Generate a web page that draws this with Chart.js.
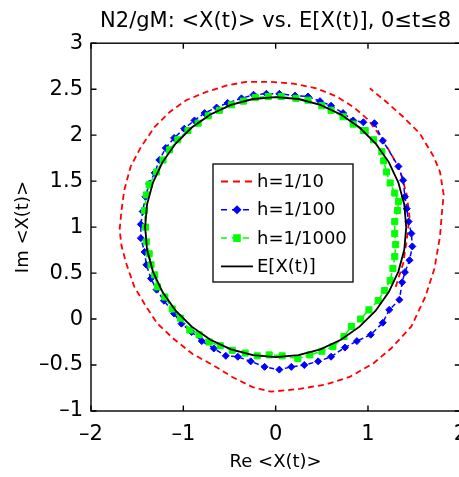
<!DOCTYPE html>
<html><head><meta charset="utf-8">
<script src="https://cdn.jsdelivr.net/npm/chart.js@4.4.1/dist/chart.umd.min.js"></script>
<style>
html,body{margin:0;padding:0;overflow:hidden;background:#fff;width:459px;height:477px}
canvas{display:block}
</style></head>
<body>
<canvas id="c" width="478" height="477" style="width:478px;height:477px"></canvas>
<script>
const titleText = 'N2/gM: <X(t)> vs. E[X(t)], 0\u2264t\u22648';
const xTitle = 'Re <X(t)>';
const yTitle = 'Im <X(t)>';
const seriesLabels = ['h=1/10', 'h=1/100', 'h=1/1000', 'E[X(t)]'];
const xTicks = [-2, -1, 0, 1, 2];
const yTicks = [-1, -0.5, 0, 0.5, 1, 1.5, 2, 2.5, 3];

// h = 1/10 (red dashed spiral)
const redX = [1.30, 1.38, 1.42, 1.45, 1.42, 1.36, 1.26, 1.14, 1.00, 0.85, 0.66, 0.44, 0.19, -0.07, -0.32, -0.53, -0.75, -0.97, -1.15, -1.31, -1.46, -1.57, -1.64, -1.67, -1.69, -1.67, -1.62, -1.53, -1.40, -1.28, -1.10, -0.90, -0.68, -0.47, -0.25, -0.05, 0.26, 0.55, 0.80, 1.06, 1.25, 1.47, 1.62, 1.72, 1.78, 1.80, 1.82, 1.78, 1.71, 1.56, 1.38, 1.20, 1.02];
const redY = [0.35, 0.60, 0.86, 1.11, 1.35, 1.57, 1.78, 1.98, 2.17, 2.30, 2.42, 2.51, 2.56, 2.58, 2.58, 2.54, 2.47, 2.38, 2.25, 2.09, 1.87, 1.66, 1.40, 1.18, 0.97, 0.80, 0.61, 0.35, 0.13, -0.05, -0.22, -0.38, -0.50, -0.63, -0.74, -0.79, -0.76, -0.71, -0.63, -0.48, -0.32, -0.08, 0.24, 0.55, 0.90, 1.15, 1.35, 1.60, 1.77, 2.02, 2.20, 2.36, 2.51];

// h = 1/100 (blue dashed, diamonds)
const blueX = [1.07, 1.16, 1.33, 1.38, 1.40, 1.42, 1.44, 1.47, 1.48, 1.45, 1.40, 1.37, 1.34, 1.23, 1.16, 1.03, 0.88, 0.75, 0.60, 0.46, 0.31, 0.17, 0.04, -0.12, -0.27, -0.41, -0.54, -0.67, -0.80, -0.91, -1.02, -1.10, -1.21, -1.29, -1.35, -1.40, -1.42, -1.46, -1.46, -1.44, -1.41, -1.37, -1.31, -1.26, -1.19, -1.10, -0.99, -0.88, -0.77, -0.64, -0.52, -0.37, -0.24, -0.10, 0.04, 0.21, 0.35, 0.48, 0.60, 0.73, 0.84, 0.95];
const blueY = [2.13, 1.94, 1.66, 1.51, 1.33, 1.20, 1.06, 0.93, 0.79, 0.64, 0.51, 0.40, 0.21, 0.10, -0.04, -0.17, -0.24, -0.31, -0.41, -0.46, -0.50, -0.52, -0.55, -0.52, -0.46, -0.41, -0.40, -0.32, -0.24, -0.14, -0.05, 0.06, 0.20, 0.32, 0.44, 0.59, 0.73, 0.88, 1.03, 1.17, 1.33, 1.47, 1.59, 1.73, 1.86, 1.97, 2.07, 2.16, 2.24, 2.30, 2.35, 2.40, 2.44, 2.45, 2.45, 2.43, 2.42, 2.37, 2.32, 2.24, 2.16, 2.14];

// h = 1/1000 (green dashed, squares)
const greenX = [0.97, 1.06, 1.15, 1.17, 1.20, 1.24, 1.29, 1.33, 1.32, 1.29, 1.29, 1.30, 1.29, 1.27, 1.24, 1.18, 1.11, 1.01, 0.92, 0.82, 0.74, 0.62, 0.50, 0.37, 0.24, 0.07, -0.07, -0.20, -0.33, -0.47, -0.60, -0.72, -0.83, -0.93, -1.03, -1.12, -1.20, -1.28, -1.31, -1.35, -1.37, -1.40, -1.41, -1.42, -1.40, -1.37, -1.29, -1.22, -1.15, -1.06, -0.95, -0.84, -0.73, -0.61, -0.48, -0.35, -0.22, -0.08, 0.06, 0.22, 0.35, 0.50, 0.60, 0.73, 0.84, 0.95];
const greenY = [2.05, 1.95, 1.82, 1.72, 1.60, 1.48, 1.37, 1.28, 1.18, 1.06, 0.93, 0.81, 0.68, 0.55, 0.42, 0.31, 0.20, 0.10, 0.00, -0.08, -0.19, -0.30, -0.35, -0.39, -0.43, -0.40, -0.39, -0.40, -0.37, -0.34, -0.29, -0.25, -0.17, -0.12, 0.01, 0.11, 0.24, 0.35, 0.48, 0.59, 0.71, 0.84, 1.00, 1.18, 1.35, 1.46, 1.60, 1.73, 1.84, 1.95, 2.05, 2.13, 2.21, 2.27, 2.33, 2.37, 2.41, 2.42, 2.42, 2.40, 2.38, 2.32, 2.27, 2.20, 2.12, 2.05];

// E[X(t)] (black solid)
const expX = [1.414, 1.393, 1.329, 1.225, 1.083, 0.909, 0.707, 0.484, 0.246, 0.000, -0.246, -0.484, -0.707, -0.909, -1.083, -1.225, -1.329, -1.393, -1.414, -1.393, -1.329, -1.225, -1.083, -0.909, -0.707, -0.484, -0.246, 0.000, 0.246, 0.484, 0.707, 0.909, 1.083, 1.225, 1.329, 1.393, 1.414];
const expY = [1.000, 1.246, 1.484, 1.707, 1.909, 2.083, 2.225, 2.329, 2.393, 2.414, 2.393, 2.329, 2.225, 2.083, 1.909, 1.707, 1.484, 1.246, 1.000, 0.754, 0.516, 0.293, 0.091, -0.083, -0.225, -0.329, -0.393, -0.414, -0.393, -0.329, -0.225, -0.083, 0.091, 0.293, 0.516, 0.754, 1.000];

const pts = (xs, ys) => xs.map((v, i) => ({x: v, y: ys[i]}));
const FONT = 'DejaVu Sans';
Chart.defaults.font.family = FONT;
Chart.defaults.color = '#000';

const fmt = v => (v < 0 ? '\u2013' + Math.abs(v) : String(v));

const framePlugin = {
  id: 'frame',
  afterDatasetsDraw(chart) {
    const {ctx, chartArea: {left, right, top, bottom}, scales: {x, y}} = chart;
    ctx.save();
    ctx.strokeStyle = '#000';
    ctx.lineWidth = 1.4;
    ctx.setLineDash([]);
    ctx.strokeRect(left, top, right - left, bottom - top);
    const L = 5.5;
    ctx.beginPath();
    x.ticks.forEach(t => {
      const p = x.getPixelForValue(t.value);
      ctx.moveTo(p, bottom); ctx.lineTo(p, bottom - L);
      ctx.moveTo(p, top); ctx.lineTo(p, top + L);
    });
    y.ticks.forEach(t => {
      const p = y.getPixelForValue(t.value);
      ctx.moveTo(left, p); ctx.lineTo(left + L, p);
      ctx.moveTo(right, p); ctx.lineTo(right - L, p);
    });
    ctx.stroke();
    ctx.restore();
  }
};

const legendPlugin = {
  id: 'boxLegend',
  afterDraw(chart) {
    const ctx = chart.ctx;
    const bx = 213, by = 164, bw = 140, bh = 118;
    ctx.save();
    ctx.fillStyle = '#fff';
    ctx.fillRect(bx, by, bw, bh);
    ctx.strokeStyle = '#000';
    ctx.lineWidth = 1.3;
    ctx.setLineDash([]);
    ctx.strokeRect(bx, by, bw, bh);
    chart.data.datasets.forEach((ds, i) => {
      const yy = by + 17.5 + i * 28.3;
      ctx.strokeStyle = ds.borderColor;
      ctx.lineWidth = ds.borderWidth;
      ctx.setLineDash(ds.legendDash || []);
      ctx.beginPath();
      ctx.moveTo(bx + 8, yy); ctx.lineTo(bx + 40, yy);
      ctx.stroke();
      ctx.setLineDash([]);
      if (ds.pointRadius > 0) {
        ctx.fillStyle = ds.pointBackgroundColor;
        ctx.strokeStyle = ds.pointBorderColor;
        Chart.helpers.drawPoint(ctx, {pointStyle: ds.pointStyle, radius: ds.pointRadius, borderWidth: 1, rotation: 0}, bx + 24, yy);
      }
      ctx.fillStyle = '#000';
      ctx.font = '18px "' + FONT + '"';
      ctx.textBaseline = 'middle';
      ctx.textAlign = 'left';
      ctx.fillText(ds.label, bx + 44, yy + 1);
    });
    ctx.restore();
  }
};

new Chart(document.getElementById('c'), {
  type: 'scatter',
  data: {
    datasets: [
      {label: seriesLabels[0], data: pts(redX, redY), showLine: true, borderColor: '#ff0000', borderWidth: 1.8,
       borderDash: [6, 4], legendDash: [7, 5], pointRadius: 0, order: 4},
      {label: seriesLabels[1], data: pts(blueX, blueY), showLine: true, borderColor: '#0000ff', borderWidth: 1.5,
       borderDash: [5, 3], legendDash: [6, 5], pointStyle: 'rectRot', pointRadius: 3.5, pointBackgroundColor: '#0000ff',
       pointBorderColor: '#0000ff', pointBorderWidth: 1, order: 3},
      {label: seriesLabels[2], data: pts(greenX, greenY), showLine: true, borderColor: '#00ff00', borderWidth: 1.5,
       borderDash: [5, 3], legendDash: [6, 5], pointStyle: 'rect', pointRadius: 4.3, pointBackgroundColor: '#00ff00',
       pointBorderColor: '#00ff00', pointBorderWidth: 1, order: 2},
      {label: seriesLabels[3], data: pts(expX, expY), showLine: true, borderColor: '#000000', borderWidth: 1.8,
       pointRadius: 0, order: 1}
    ]
  },
  options: {
    responsive: false,
    animation: false,
    layout: {padding: {left: 0, right: 10, top: 0, bottom: 0}},
    plugins: {
      legend: {display: false},
      tooltip: {enabled: false},
      title: {display: true, text: titleText, fullSize: false, color: '#000',
              font: {size: 21, weight: 'normal', family: FONT}, padding: {top: 9, bottom: 9}}
    },
    scales: {
      x: {
        type: 'linear', min: -2, max: 2,
        afterBuildTicks: s => { s.ticks = xTicks.map(v => ({value: v})); },
        afterFit: s => { s.height = 66; },
        grid: {display: false, drawTicks: false},
        border: {display: false},
        ticks: {callback: fmt, font: {size: 21}, color: '#000', padding: 11, maxRotation: 0},
        title: {display: true, text: xTitle, font: {size: 18}, color: '#000', padding: {top: 0, bottom: 4}}
      },
      y: {
        type: 'linear', min: -1, max: 3,
        afterBuildTicks: s => { s.ticks = yTicks.map(v => ({value: v})); },
        afterFit: s => { s.width = 91; },
        grid: {display: false, drawTicks: false},
        border: {display: false},
        ticks: {callback: fmt, font: {size: 21}, color: '#000', padding: 8},
        title: {display: true, text: yTitle, font: {size: 18}, color: '#000', padding: {top: 13, bottom: 0}}
      }
    }
  },
  plugins: [framePlugin, legendPlugin]
});
</script>
</body></html>
